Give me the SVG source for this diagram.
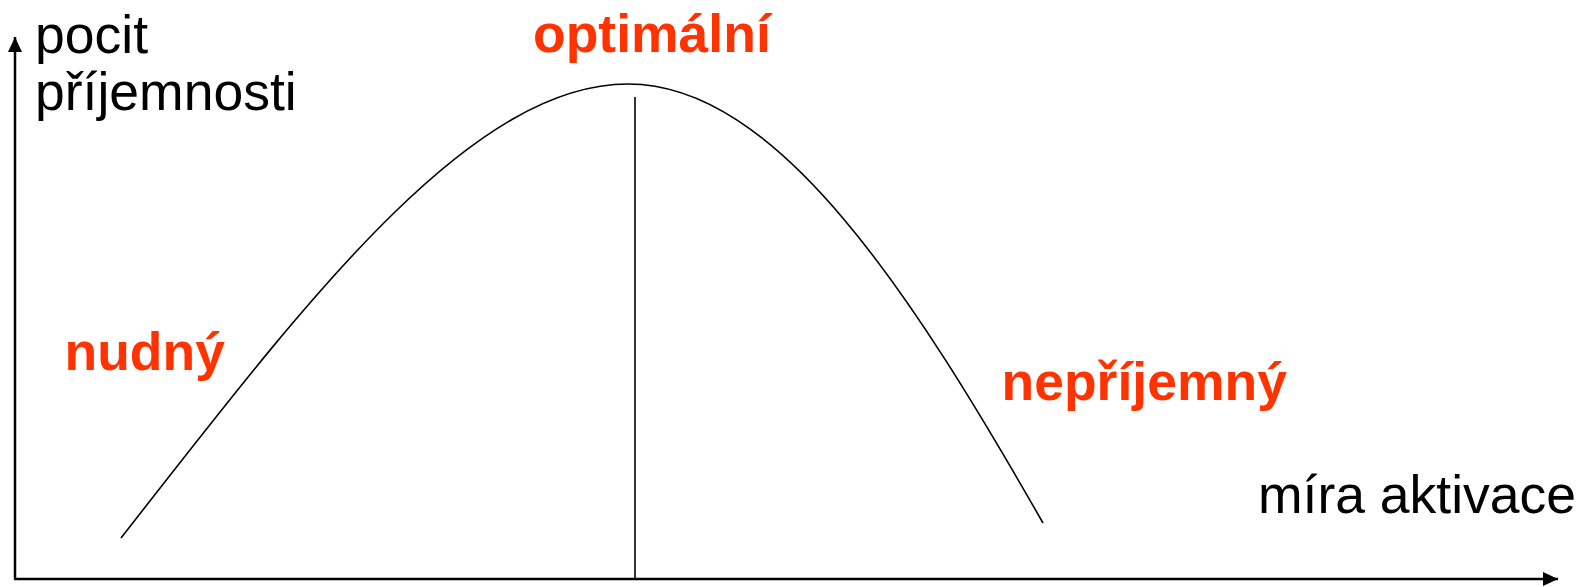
<svg xmlns="http://www.w3.org/2000/svg" width="1580" height="587" viewBox="0 0 1580 587">
  <style>
    .lbl { font-family: "Liberation Sans", Arial, sans-serif; font-size: 53.5px; fill: #000; }
    .red { font-family: "Liberation Sans", Arial, sans-serif; font-size: 53.5px; font-weight: bold; fill: #FF3300; }
    .axis { stroke: #000; stroke-width: 2.5; fill: none; }
    .thin { stroke: #000; stroke-width: 1.6; fill: none; }
  </style>
  <defs>
    <marker id="arr" viewBox="0 0 15 14" refX="15" refY="7" markerWidth="15" markerHeight="14" markerUnits="userSpaceOnUse" orient="auto">
      <path d="M0,0 L15,7 L0,14 Z" fill="#000"/>
    </marker>
  </defs>
  <rect width="1580" height="587" fill="#fff"/>
  <g id="connectors">
    <line class="axis" x1="15" y1="579" x2="15" y2="37" marker-end="url(#arr)"/>
    <line class="axis" x1="14" y1="579" x2="1558" y2="579" marker-end="url(#arr)"/>
    <path id="curve" class="thin" d="M121,538 C301,308 468,84 628,84 C778,84 913,295.5 1043,523"/>
    <line id="optimum-line" class="thin" x1="635" y1="97" x2="635" y2="579"/>
  </g>
  <g id="y-label">
    <text class="lbl" x="35" y="53">pocit</text>
    <text class="lbl" x="35" y="110">příjemnosti</text>
  </g>
  <g id="x-label">
    <text class="lbl" x="1258" y="513">míra aktivace</text>
  </g>
  <g id="optimalni"><text class="red" x="533" y="52">optimální</text></g>
  <g id="nudny"><text class="red" x="64.5" y="370">nudný</text></g>
  <g id="neprijemny"><text class="red" x="1001.5" y="400">nepříjemný</text></g>
</svg>
